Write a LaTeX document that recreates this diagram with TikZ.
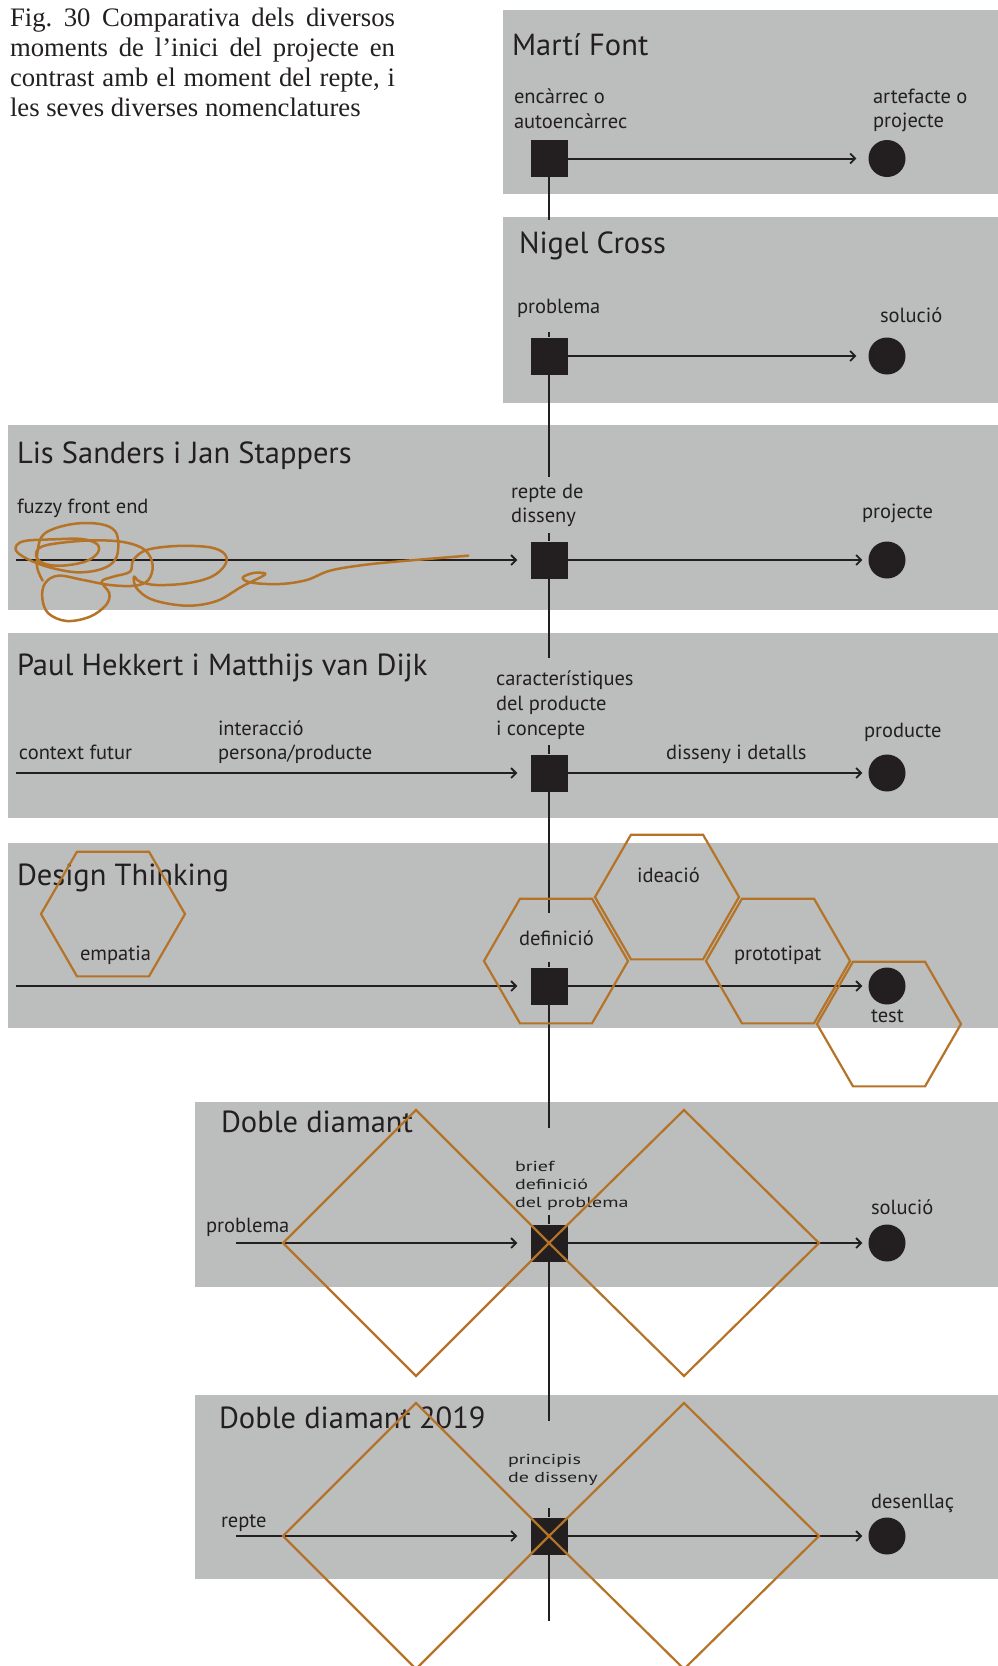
\documentclass[tikz,border=0pt]{standalone}
\usepackage{fontspec}
\setmainfont{Liberation Serif}
\newfontfamily\myr{PT Sans}
\newfontfamily\myrw[FakeStretch=1.38]{PT Sans}
\usetikzlibrary{arrows.meta}
\frenchspacing

\definecolor{panelgray}{RGB}{188,190,189}
\definecolor{ochre}{RGB}{181,115,40}
\definecolor{ink}{RGB}{35,31,32}

\tikzset{
  txt/.style={anchor=base west, inner sep=0pt, outer sep=0pt, text=ink},
  capt/.style={txt, font=\fontsize{26.7}{30}\selectfont},
  ttl/.style={txt, font=\myr\fontsize{30.5}{36}\selectfont},
  lab/.style={txt, font=\myr\fontsize{20.5}{24}\selectfont},
  slab/.style={txt, font=\myrw\fontsize{14.5}{18}\selectfont},
  stage/.style={rectangle, fill=ink, draw=none, minimum size=37pt, inner sep=0pt},
  goal/.style={circle, fill=ink, draw=none, minimum size=37pt, inner sep=0pt},
  flow/.style={draw=ink, line width=2pt, -{Straight Barb[length=5pt, width=10pt, line width=1.8pt]}},
  axis/.style={draw=ink, line width=2pt},
  ochreline/.style={draw=ochre, line width=2.2pt, line join=miter},
}

\begin{document}
\begin{tikzpicture}[x=1pt, y=-1pt]
\useasboundingbox (0,0) rectangle (998,1666);

% ---------- grey bands ----------
\fill[panelgray] (503,10)   rectangle (998,194);
\fill[panelgray] (503,217)  rectangle (998,403);
\fill[panelgray] (8,425)    rectangle (998,610);
\fill[panelgray] (8,633)    rectangle (998,818);
\fill[panelgray] (8,843)    rectangle (998,1028);
\fill[panelgray] (195,1102) rectangle (998,1287);
\fill[panelgray] (195,1395) rectangle (998,1579);

% ---------- caption ----------
\node[capt] (cap1) at (10,26)  {\makebox[385pt][s]{Fig. 30 Comparativa dels diversos}};
\node[capt] (cap2) at (10,56)  {\makebox[385pt][s]{moments de l’inici del projecte en}};
\node[capt] (cap3) at (10,86)  {\makebox[385pt][s]{contrast amb el moment del repte, i}};
\node[capt] (cap4) at (10,116) {les seves diverses nomenclatures};

% ---------- start points, squares and end circles ----------
\node[stage] (sq1) at (549,158.5) {};
\node[stage] (sq2) at (549,356)   {};
\node[stage] (sq3) at (549,560)   {};
\node[stage] (sq4) at (549,773)   {};
\node[stage] (sq5) at (549,986)   {};
\node[stage] (sq6) at (549,1243)  {};
\node[stage] (sq7) at (549,1536)  {};

\node[goal] (end1) at (887,158.5) {};
\node[goal] (end2) at (887,356)   {};
\node[goal] (end3) at (887,560)   {};
\node[goal] (end4) at (887,773)   {};
\node[goal] (end5) at (887,986)   {};
\node[goal] (end6) at (887,1243)  {};
\node[goal] (end7) at (887,1536)  {};

\coordinate (in3) at (16,560);
\coordinate (in4) at (16,773);
\coordinate (in5) at (16,986);
\coordinate (in6) at (236,1243);
\coordinate (in7) at (236,1536);

% ---------- flow arrows ----------
\draw[flow, shorten >=12pt]  (sq1) -- (end1);
\draw[flow, shorten >=12pt]  (sq2) -- (end2);
\draw[flow, shorten >=13pt]  (in3) -- (sq3);
\draw[flow, shorten >=6pt]   (sq3) -- (end3);
\draw[flow, shorten >=13pt]  (in4) -- (sq4);
\draw[flow, shorten >=6pt]   (sq4) -- (end4);
\draw[flow, shorten >=13pt]  (in5) -- (sq5);
\draw[flow, shorten >=6pt]   (sq5) -- (end5);
\draw[flow, shorten >=13pt]  (in6) -- (sq6);
\draw[flow, shorten >=6pt]   (sq6) -- (end6);
\draw[flow, shorten >=13pt]  (in7) -- (sq7);
\draw[flow, shorten >=6pt]   (sq7) -- (end7);

% ---------- vertical axis through the squares ----------
\coordinate (ax1b) at (549,220);
\coordinate (ax2a) at (549,332);  \coordinate (ax2b) at (549,477);
\coordinate (ax3a) at (549,533);  \coordinate (ax3b) at (549,658);
\coordinate (ax4a) at (549,745);  \coordinate (ax4b) at (549,913);
\coordinate (ax5a) at (549,962);  \coordinate (ax5b) at (549,1128);
\coordinate (ax6a) at (549,1215); \coordinate (ax6b) at (549,1421);
\coordinate (ax7a) at (549,1508); \coordinate (ax7b) at (549,1621);
\draw[axis] (sq1.south) -- (ax1b);
\draw[axis] (ax2a) -- (sq2.north);  \draw[axis] (sq2.south) -- (ax2b);
\draw[axis] (ax3a) -- (sq3.north);  \draw[axis] (sq3.south) -- (ax3b);
\draw[axis] (ax4a) -- (sq4.north);  \draw[axis] (sq4.south) -- (ax4b);
\draw[axis] (ax5a) -- (sq5.north);  \draw[axis] (sq5.south) -- (ax5b);
\draw[axis] (ax6a) -- (sq6.north);  \draw[axis] (sq6.south) -- (ax6b);
\draw[axis] (ax7a) -- (sq7.north);  \draw[axis] (sq7.south) -- (ax7b);

% ---------- Martí Font ----------
\node[ttl] (t1)  at (512,55)  {Martí Font};
\node[lab] (a1)  at (514,103) {encàrrec o};
\node[lab] (a1b) at (514,128) {autoencàrrec};
\node[lab] (b1)  at (873,103) {artefacte o};
\node[lab] (b1b) at (873,127) {projecte};

% ---------- Nigel Cross ----------
\node[ttl] (t2) at (519,253) {Nigel Cross};
\node[lab] (a2) at (517,313) {problema};
\node[lab] (b2) at (880,322) {solució};

% ---------- Lis Sanders i Jan Stappers ----------
\node[ttl] (t3)  at (17,463)  {Lis Sanders i Jan Stappers};
\node[lab] (f3)  at (17,513)  {fuzzy front end};
\node[lab] (a3)  at (511,498) {repte de};
\node[lab] (a3b) at (511,522) {disseny};
\node[lab] (b3)  at (862,518) {projecte};

% ---------- Paul Hekkert i Matthijs van Dijk ----------
\node[ttl] (t4)  at (17,675)  {Paul Hekkert i Matthijs van Dijk};
\node[lab] (a4)  at (496,685) {característiques};
\node[lab] (a4b) at (496,710) {del producte};
\node[lab] (a4c) at (496,735) {i concepte};
\node[lab] (c4)  at (19,759)  {context futur};
\node[lab] (i4)  at (218,735) {interacció};
\node[lab] (i4b) at (218,759) {persona/producte};
\node[lab] (d4)  at (666,759) {disseny i detalls};
\node[lab] (b4)  at (864,737) {producte};

% ---------- Design Thinking ----------
\node[ttl] (t5) at (17,885)  {Design Thinking};
\node[lab] (e5) at (80,960)  {empatia};
\node[lab] (a5) at (519,945) {definició};
\node[lab] (i5) at (637,882) {ideació};
\node[lab] (p5) at (734,960) {prototipat};
\node[lab] (b5) at (871,1022) {test};

% ---------- Doble diamant ----------
\node[ttl]  (t6)  at (221,1132) {Doble diamant};
\node[lab]  (c6)  at (206,1232) {problema};
\node[slab] (a6)  at (515,1171) {brief};
\node[slab] (a6b) at (515,1189) {definició};
\node[slab] (a6c) at (515,1207) {del problema};
\node[lab]  (b6)  at (871,1214) {solució};

% ---------- Doble diamant 2019 ----------
\node[ttl]  (t7)  at (219,1428) {Doble diamant 2019};
\node[slab] (a7)  at (508,1464) {principis};
\node[slab] (a7b) at (508,1482) {de disseny};
\node[lab]  (c7)  at (221,1527) {repte};
\node[lab]  (b7)  at (871,1508) {desenllaç};

% ---------- fuzzy front end scribble ----------
\begin{scope}[shift={(0,515)}, scale=1/3]
\draw[ochreline, line width=2.5pt, line join=round, line cap=round]
  plot[smooth, tension=0.6] coordinates {
   (128,197) (112,160) (112,115) (125,65) (165,40) (235,25) (305,28)
   (345,48) (355,90) (345,135) (305,162) (235,172) (160,160) (95,138)
   (52,112) (50,90) (80,77) (160,73) (245,72) (292,88) (292,115)
   (255,140) (185,152) (130,145) (108,120) (125,95) (195,82) (290,76)
   (375,82) (435,105) (458,150) (445,195) (405,212) (330,210) (250,195)
   (175,182) (135,205) (127,250) (145,295) (200,318) (270,305) (318,270)
   (328,235) (305,200) (340,185) (390,170) (400,135) (440,105) (530,93)
   (630,97) (675,118) (675,150) (635,185) (560,205) (470,210) (420,200)
   (402,185) (410,220) (460,255) (560,272) (650,258) (725,215) (785,185)
   (795,175) (760,174) (728,188) (755,203) (840,207) (920,195) (990,167)
   (1090,150) (1210,138) (1405,122)};
\end{scope}

% ---------- design thinking hexagons ----------
\foreach \cx/\cy in {113/914, 556/961, 667/897, 778/961, 889/1024}{
  \draw[ochreline] (\cx+72,\cy) -- (\cx+36,\cy-62.35) -- (\cx-36,\cy-62.35)
    -- (\cx-72,\cy) -- (\cx-36,\cy+62.35) -- (\cx+36,\cy+62.35) -- cycle;
}

% ---------- double diamonds ----------
\foreach \dy in {0,293}{
  \draw[ochreline] (283,1243+\dy) -- (416,1110+\dy) -- (549,1243+\dy) -- (416,1376+\dy) -- cycle;
  \draw[ochreline] (549,1243+\dy) -- (684,1110+\dy) -- (819,1243+\dy) -- (684,1376+\dy) -- cycle;
}
\end{tikzpicture}
\end{document}
